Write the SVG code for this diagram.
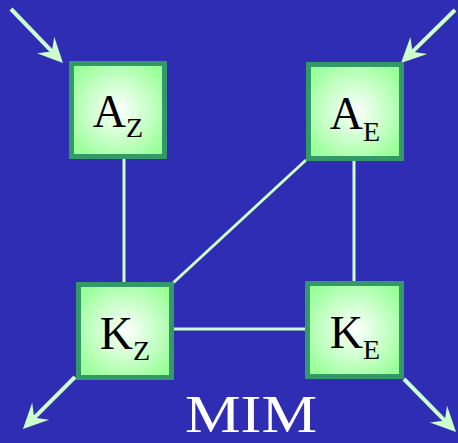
<svg xmlns="http://www.w3.org/2000/svg" width="458" height="443" viewBox="0 0 458 443">
<style>
.box{fill:url(#g);stroke:#339966;stroke-width:5}
.lbl{font-family:"Liberation Serif","Times New Roman",serif;font-size:46px;fill:#000;text-anchor:middle}
.sub{font-size:28px}
.edge{stroke:#ccffcc;stroke-width:3;fill:none}
.arr{stroke:#ccffcc;stroke-width:4;fill:none;marker-end:url(#ah)}
</style>
<defs>
<radialGradient id="g" cx="0.5" cy="0.5" r="0.6">
<stop offset="0" stop-color="#ffffff"/>
<stop offset="0.55" stop-color="#c8ffc8"/>
<stop offset="1" stop-color="#99ff99"/>
</radialGradient>
<marker id="ah" markerUnits="userSpaceOnUse" markerWidth="32" markerHeight="32" viewBox="-28 -16 32 32" refX="-8" refY="0" orient="auto">
<path d="M0,0 L-25,-12 L-16,0 L-25,12 Z" fill="#ccffcc"/>
</marker>
</defs>
<rect width="458" height="443" fill="#2f2db4"/>
<g id="connectors">
<line class="edge" x1="124" y1="159" x2="124" y2="282"/>
<line class="edge" x1="354" y1="161" x2="354" y2="281"/>
<line class="edge" x1="306" y1="160" x2="173" y2="283"/>
<line class="edge" x1="174" y1="329" x2="305" y2="329"/>
<line class="arr" x1="11" y1="9" x2="57.4" y2="57.2"/>
<line class="arr" x1="455" y1="10" x2="406.7" y2="57.4"/>
<line class="arr" x1="75" y1="377" x2="28.6" y2="423.3"/>
<line class="arr" x1="404" y1="379" x2="450.4" y2="426.3"/>
</g>
<g id="Az">
<rect class="box" x="71.5" y="63.5" width="93" height="93"/>
<text class="lbl" x="118" y="127">A<tspan class="sub" dy="10">Z</tspan></text>
</g>
<g id="Ae">
<rect class="box" x="308.5" y="64.5" width="93" height="94"/>
<text class="lbl" x="355" y="129">A<tspan class="sub" dy="12">E</tspan></text>
</g>
<g id="Kz">
<rect class="box" x="78.5" y="284.5" width="93" height="93"/>
<text class="lbl" x="125" y="349">K<tspan class="sub" dy="11">Z</tspan></text>
</g>
<g id="Ke">
<rect class="box" x="307.5" y="283.5" width="94" height="93"/>
<text class="lbl" x="355" y="348">K<tspan class="sub" dy="11">E</tspan></text>
</g>
<g id="title">
<text x="185" y="432" font-family="Liberation Serif,'Times New Roman',serif" font-size="52" fill="#ffffff" textLength="132" lengthAdjust="spacingAndGlyphs">MIM</text>
</g>
</svg>
